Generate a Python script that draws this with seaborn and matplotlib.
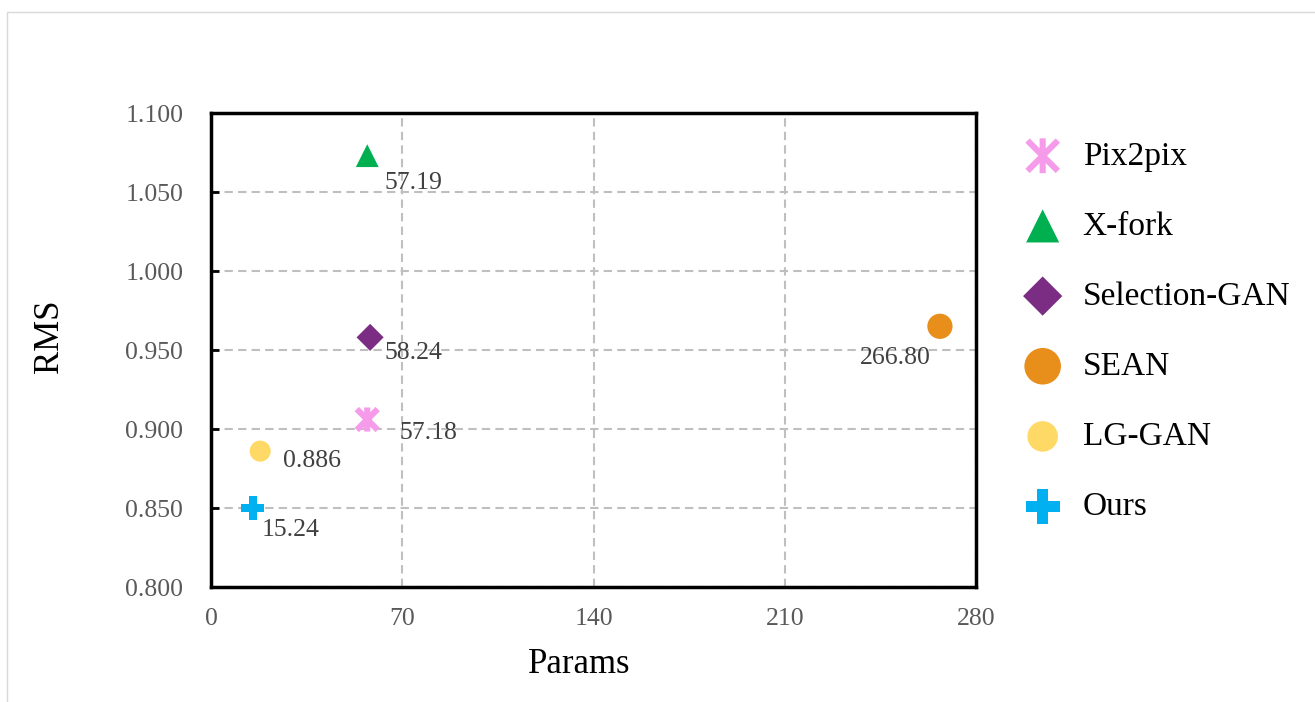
import matplotlib
matplotlib.use("Agg")
import matplotlib.pyplot as plt
import seaborn as sns
from matplotlib.path import Path
from matplotlib.lines import Line2D

# Model comparison: parameter count vs RMS
models = ["Pix2pix", "X-fork", "Selection-GAN", "SEAN", "LG-GAN", "Ours"]
params = [57.18, 57.19, 58.24, 266.80, 18.0, 15.24]
rms = [0.906, 1.073, 0.958, 0.965, 0.886, 0.850]
point_labels = ["57.18", "57.19", "58.24", "266.80", "0.886", "15.24"]

x_ticks = [0, 70, 140, 210, 280]
y_ticks = [0.800, 0.850, 0.900, 0.950, 1.000, 1.050, 1.100]

colors = ["#F59BEA", "#00B050", "#7B2C83", "#E88E1A", "#FFD966", "#00B0F0"]

# asterisk made of an X plus a vertical bar
star_path = Path(
    [(-1, -1), (1, 1), (-1, 1), (1, -1), (0, -1.15), (0, 1.15)],
    [Path.MOVETO, Path.LINETO, Path.MOVETO, Path.LINETO, Path.MOVETO, Path.LINETO],
)
markers = [star_path, "^", "D", "o", "o", "P"]
sizes = [300, 270, 190, 330, 230, 290]

# label offsets in pixels (dx, dy) and horizontal alignment
offsets = [(32, -13, "left"), (17, -27, "left"), (14, -16, "left"),
           (-9, -32, "right"), (23, -10, "left"), (9, -22, "left")]

sns.set_theme(style="white")
plt.rcParams["font.family"] = ["Liberation Serif", "DejaVu Serif"]

fig = plt.figure(figsize=(13.15, 7.02), dpi=100)
ax = fig.add_axes([211 / 1315, 1 - 587 / 702, 765 / 1315, 474 / 702])

for i, name in enumerate(models):
    if isinstance(markers[i], Path):
        sns.scatterplot(x=[params[i]], y=[rms[i]], ax=ax, marker=markers[i],
                        s=sizes[i], facecolor="none", edgecolor=colors[i],
                        linewidth=4.4, label=name, zorder=3)
    else:
        sns.scatterplot(x=[params[i]], y=[rms[i]], ax=ax, marker=markers[i],
                        s=sizes[i], color=colors[i], edgecolor="none",
                        linewidth=0, label=name, zorder=3)
    dx, dy, ha = offsets[i]
    ax.annotate(point_labels[i], (params[i], rms[i]), xytext=(dx, dy),
                textcoords="offset pixels", ha=ha, va="center",
                fontsize=18.5, color="#404040", zorder=4)

ax.set_xlim(0, 280)
ax.set_ylim(0.8, 1.1)
ax.set_xticks(x_ticks)
ax.set_yticks(y_ticks)
ax.set_yticklabels([f"{v:.3f}" for v in y_ticks])
ax.tick_params(axis="x", length=0, pad=15, labelsize=18.5, labelcolor="#595959")
ax.tick_params(axis="y", direction="in", length=6, width=2, color="black",
               pad=20, labelsize=18.5, labelcolor="#595959", left=True)

ax.grid(True, color="#BFBFBF", linestyle=(0, (4, 2.5)), linewidth=1.5)
ax.set_axisbelow(True)
for sp in ax.spines.values():
    sp.set_color("black")
    sp.set_linewidth(2.5)

ax.set_xlabel("Params", fontsize=25, color="black")
ax.set_ylabel("RMS", fontsize=25, color="black")
ax.xaxis.set_label_coords(0.481, -0.128)
ax.yaxis.set_label_coords(-0.19, 0.53)

leg = ax.legend(loc="upper left", bbox_to_anchor=(1016 / 1315, 1 - 141 / 702),
                bbox_transform=fig.transFigure, frameon=False, fontsize=24,
                markerscale=1.45, labelspacing=1.19, handlelength=1.6,
                handletextpad=0.4, borderpad=0, borderaxespad=0,
                labelcolor="black")

# thin frame around the figure area
fig.add_artist(Line2D([7 / 1315, 1], [1 - 12 / 702, 1 - 12 / 702],
                      transform=fig.transFigure, color="#D9D9D9", linewidth=1))
fig.add_artist(Line2D([7 / 1315, 7 / 1315], [0, 1 - 12 / 702],
                      transform=fig.transFigure, color="#D9D9D9", linewidth=1))

fig.savefig("out.png", dpi=100)
